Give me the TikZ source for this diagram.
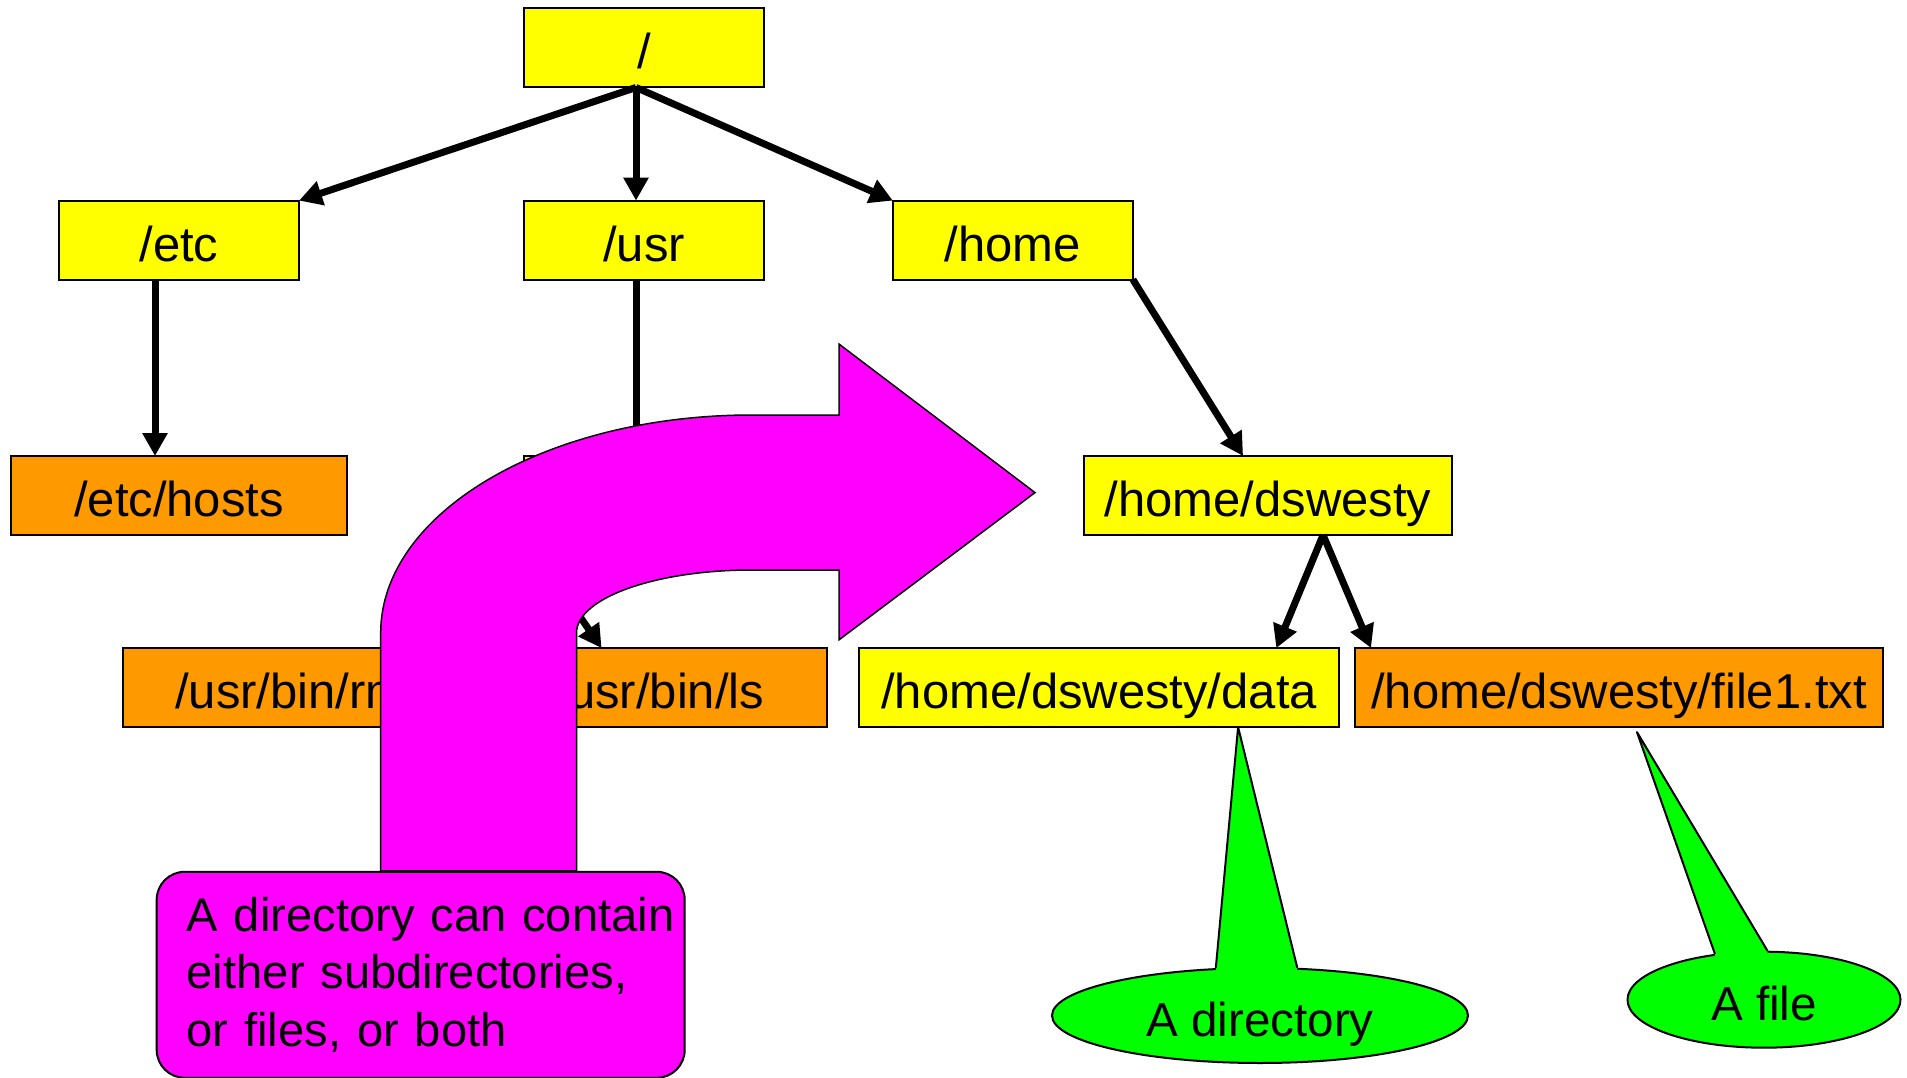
\documentclass[tikz,border=0pt]{standalone}
\usepackage{fontspec}
\setmainfont{Liberation Sans}
\usetikzlibrary{arrows.meta,positioning,shapes.geometric}
\definecolor{diryellow}{RGB}{255,255,0}
\definecolor{fileorange}{RGB}{255,153,0}
\definecolor{hintpink}{RGB}{255,0,255}
\definecolor{hintgreen}{RGB}{0,255,0}
\tikzstyle{dirbox} = [rectangle, draw, line width=2pt, fill=diryellow, outer sep=0pt,
    inner sep=4pt, minimum height=79pt, text height=42pt, text depth=0pt,
    font=\fontsize{49pt}{58pt}\selectfont]
\tikzstyle{filebox} = [dirbox, fill=fileorange]
\tikzstyle{line} = [draw, -{Triangle[length=23pt,width=24pt]}, line width=7pt]
\tikzstyle{bubble} = [ellipse, draw, line width=2pt, fill=hintgreen,
    inner sep=0pt, text height=41pt, text depth=0pt,
    font=\fontsize{47.6pt}{57pt}\selectfont]
\tikzstyle{bubbletip} = [draw, line width=2pt, line join=round]
\tikzstyle{turnarrow} = [draw, line width=1.5pt, fill=hintpink]
\tikzstyle{note} = [rectangle, draw, line width=2pt, rounded corners=28pt,
    fill=hintpink, align=left, inner xsep=30pt, text width=468pt,
    minimum height=206pt, font=\fontsize{47.2pt}{57.5pt}\selectfont]

\begin{document}
\begin{tikzpicture}[x=1pt,y=-1pt]
        \useasboundingbox (0,0) rectangle (1907,1078);
        % Place nodes
        \node [dirbox, minimum width=240pt] (root) at (644,48) {/};
        \node [dirbox, minimum width=240pt] (usr) [below =113.1pt of root] {/usr};
        \node [dirbox, minimum width=240pt] (etc) [left =225pt of usr] {/etc};
        \node [dirbox, minimum width=240pt] (home) [right =128.9pt of usr] {/home};
        \node [filebox, minimum width=335.6pt] (hosts) [below =176.4pt of etc] {/etc/hosts};
        \node [dirbox, minimum width=240pt] (usrbin) [below =176.4pt of usr] {};
        \node [dirbox, minimum width=368.5pt] (dswesty) [right =319.8pt of usrbin] {/home/dswesty};
        \node [filebox, minimum width=335.6pt] (rm) [below =113.1pt of hosts, xshift=111.9pt] {/usr/bin/rm};
        \node [filebox, minimum width=335.6pt] (ls) [right =32.9pt of rm] {/usr/bin/ls};
        \node [dirbox, minimum width=480.4pt] (data) [right =31.7pt of ls] {/home/dswesty/data};
        \node [filebox, minimum width=527.9pt] (file1) [right =15.7pt of data] {/home/dswesty/file1.txt};
        % Draw edges
        \path [line] ([xshift=-8pt]root.south) -- (etc.north east);
        \path [line] ([xshift=-8pt]root.south) -- ([xshift=-8pt]usr.north);
        \path [line] ([xshift=-8pt]root.south) -- (home.north west);
        \path [line] ([xshift=-24pt]etc.south) -- ([xshift=-24pt]hosts.north);
        \path [line] ([xshift=-8pt]usr.south) -- ([xshift=-8pt]usrbin.north);
        \path [line] (usrbin.south west) -- ([xshift=110pt]ls.north west);
        \path [line] (home.south east) -- ([xshift=-25pt]dswesty.north);
        \path [line] ([xshift=55pt]dswesty.south) -- ([xshift=-63pt]data.north east);
        \path [line] ([xshift=55pt]dswesty.south) -- ([xshift=16pt]file1.north west);
        % Bent arrow
        \path [turnarrow] (380.7,870.8) -- (380.7,633)
            .. controls (380.7,512.6) and (546.9,415) .. (752,415)
            -- (839.2,415) -- (839.2,344.2) -- (1035,492.6) -- (839.2,639.7)
            -- (839.2,570) -- (752,570)
            .. controls (655.1,570) and (576.5,598.2) .. (576.5,633)
            -- (576.5,870.8) -- cycle;
        \node [note, anchor=north west] (hint) at (155.7,870.8)
            {\mbox{A directory can contain}\\either subdirectories,\\or files, or both};
        % Callouts
        \coordinate (dirtip) at ([xshift=139pt]data.south);
        \coordinate (filetip) at ([xshift=18pt,yshift=-5pt]file1.south);
        \node [bubble, minimum width=416pt, minimum height=95pt] (dirnote) at (1260,1015.5) {A directory};
        \fill [hintgreen] (dirnote.133) -- (dirtip) -- (dirnote.52)
            -- ([yshift=-6pt]dirnote.52) -- ([yshift=-6pt]dirnote.133) -- cycle;
        \path [bubbletip] (dirnote.133) -- (dirtip) -- (dirnote.52);
        \node [bubble, minimum width=273pt, minimum height=96pt] (filenote) at (1764,999.7) {A file};
        \fill [hintgreen] (filenote.137) -- (filetip) -- (filenote.86)
            -- ([yshift=-6pt]filenote.86) -- ([yshift=-6pt]filenote.137) -- cycle;
        \path [bubbletip] (filenote.137) -- (filetip) -- (filenote.86);
    \end{tikzpicture}
\end{document}
